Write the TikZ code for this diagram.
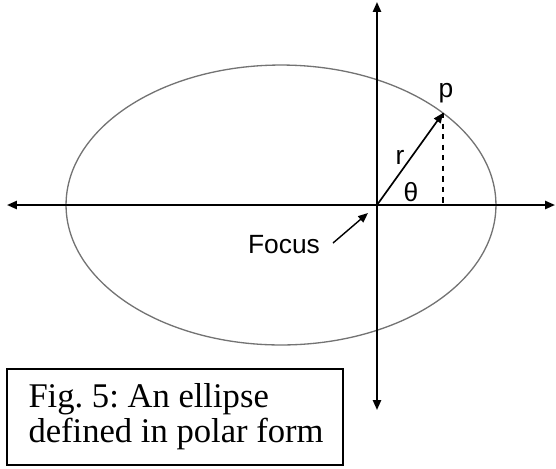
\documentclass[tikz,border=0pt]{standalone}
\usepackage{fontspec}
\setmainfont{Liberation Serif}
\setsansfont{Liberation Sans}
\usetikzlibrary{arrows.meta}

\begin{document}
\frenchspacing
\begin{tikzpicture}[
  x=0.02cm, y=-0.02cm,
  >={Triangle[length=5.6pt,width=4.6pt]},
  axis/.style={<->, line width=1.1pt},
  orbit/.style={draw=black!55, line width=0.75pt},
  radius/.style={->, line width=0.95pt},
  label/.style={font=\sffamily\fontsize{15}{17}\selectfont, inner sep=0pt},
  frame/.style={draw, line width=1pt, minimum width=6.72cm, minimum height=1.92cm},
  caption/.style={inner sep=0pt, align=left, font=\rmfamily\fontsize{19.7}{19.8}\selectfont}
  ]

  \useasboundingbox (0,0) rectangle (556,468);

  % Axes ends and points
  \coordinate (O) at (377,205);
  \coordinate (west) at (7,205);
  \coordinate (east) at (555,205);
  \coordinate (north) at (377,2);
  \coordinate (south) at (377,410);
  \coordinate (p) at (443,113);

  % Ellipse
  \draw[orbit] (281,205) ellipse [x radius=4.3cm, y radius=2.8cm];

  % Axes
  \draw[axis] (west) -- (east);
  \draw[axis] (south) -- (north);

  % Radius vector and projection
  \draw[radius] (O) -- (p);
  \draw[dashed, line width=0.8pt] (p) -- (p |- O);
  \draw[line width=0.5pt] ([xshift=0.5cm]O) arc[start angle=0, end angle=54, radius=0.5cm];

  % Labels
  \node[label] (plabel) at (446,93) {p};
  \node[label] (rlabel) at (400,157) {r};
  \node[label] (theta) at (411,192) {θ};
  \node[label] (focus) at (284,245) {Focus};
  \coordinate (fstart) at (333,243);
  \coordinate (ftip) at (368,213);
  \draw[->, line width=0.8pt] (fstart) -- (ftip);

  % Caption
  \node[frame] (box) at (175,417) {};
  \node[caption, anchor=west] (cap) at ([xshift=0.44cm]box.west) {Fig. 5: An ellipse\\defined in polar form};

\end{tikzpicture}
\end{document}
